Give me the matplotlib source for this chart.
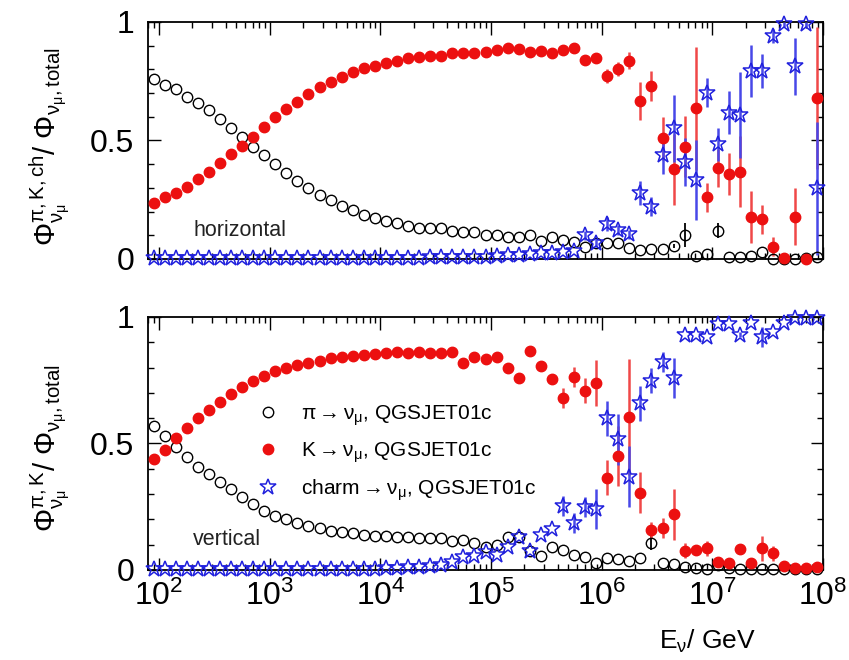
import numpy as np
import matplotlib
matplotlib.use("Agg")
import matplotlib.pyplot as plt
from matplotlib.ticker import (MultipleLocator, FuncFormatter, LogLocator,
                               FixedLocator, NullFormatter)

plt.rcParams['font.family'] = ['Liberation Sans', 'DejaVu Sans']
plt.rcParams['mathtext.fontset'] = 'custom'
plt.rcParams['mathtext.rm'] = 'Liberation Sans'
plt.rcParams['mathtext.it'] = 'Liberation Sans'
plt.rcParams['mathtext.bf'] = 'Liberation Sans:bold'

# energy bins: 0.1 decade wide, centres from 10^1.95 to 10^7.95 GeV
log_e = np.round(np.arange(61) * 0.1 + 1.95, 2)
energy = 10.0 ** log_e
decades = [1e2, 1e3, 1e4, 1e5, 1e6, 1e7, 1e8]

# ---- horizontal direction ----
hor_pi = [0.758, 0.734, 0.716, 0.685, 0.657, 0.629, 0.591, 0.554, 0.516, 0.474,
          0.439, 0.400, 0.364, 0.329, 0.298, 0.270, 0.249, 0.225, 0.207, 0.186,
          0.172, 0.162, 0.151, 0.139, 0.132, 0.130, 0.130, 0.120, 0.115, 0.112,
          0.101, 0.101, 0.092, 0.092, 0.101, 0.077, 0.092, 0.080, 0.073, 0.049,
          0.066, 0.066, 0.069, 0.045, 0.038, 0.041, 0.041, 0.055, 0.101, 0.013,
          0.021, 0.120, 0.010, 0.008, 0.013, 0.031, 0.000, 0.000, 0.000, 0.004,
          0.010]
hor_pi_err = [0.0] * 47 + [0.01, 0.05, 0.0, 0.0, 0.03] + [0.0] * 9

hor_k = [0.235, 0.260, 0.280, 0.305, 0.338, 0.368, 0.404, 0.443, 0.478, 0.516,
         0.556, 0.598, 0.633, 0.664, 0.695, 0.724, 0.748, 0.769, 0.790, 0.804,
         0.816, 0.826, 0.837, 0.847, 0.854, 0.857, 0.857, 0.868, 0.868, 0.868,
         0.875, 0.882, 0.889, 0.885, 0.872, 0.878, 0.868, 0.882, 0.889, 0.840,
         0.847, 0.772, 0.800, 0.837, 0.668, 0.730, 0.509, 0.378, 0.474, 0.636,
         0.260, 0.383, 0.359, 0.368, 0.178, 0.167, 0.052, 0.005, 0.178, 0.000,
         0.680]
hor_k_err = [0.0] * 39 + [0.02, 0.02, 0.03, 0.03, 0.035, 0.08, 0.065, 0.09, 0.15,
                          0.13, 0.26, 0.06, 0.08, 0.09, 0.15, 0.11, 0.06, 0.04,
                          0.01, 0.12, 0.01, 0.30]

hor_ch = [0.003] * 25 + [0.008] * 5 + [0.010, 0.012, 0.015, 0.015, 0.020,
          0.027, 0.027, 0.030, 0.035, 0.100, 0.069, 0.148, 0.122, 0.104, 0.277,
          0.221, 0.439, 0.551, 0.410, 0.333, 0.702, 0.484, 0.617, 0.608, 0.793,
          0.793, 0.941, 0.990, 0.814, 0.990, 0.298]
hor_ch_err = [0.0] * 39 + [0.02, 0.02, 0.03, 0.02, 0.02, 0.05, 0.04, 0.08, 0.14,
                           0.10, 0.17, 0.06, 0.07, 0.09, 0.18, 0.11, 0.07, 0.03,
                           0.01, 0.12, 0.01, 0.28]

# ---- vertical direction ----
ver_pi = [0.569, 0.530, 0.487, 0.448, 0.408, 0.379, 0.349, 0.319, 0.290, 0.261,
          0.234, 0.215, 0.200, 0.184, 0.174, 0.165, 0.155, 0.149, 0.145, 0.138,
          0.136, 0.135, 0.129, 0.129, 0.128, 0.125, 0.125, 0.116, 0.119, 0.105,
          0.092, 0.100, 0.129, 0.129, 0.076, 0.055, 0.090, 0.079, 0.059, 0.050,
          0.026, 0.046, 0.042, 0.037, 0.046, 0.108, 0.026, 0.024, 0.013, 0.007,
          0.003, 0.020, 0.007, 0.003, 0.005, 0.005, 0.005, 0.004, 0.004, 0.004,
          0.004]
ver_pi_err = [0.0] * 45 + [0.03] + [0.0] * 15

ver_k = [0.437, 0.474, 0.520, 0.562, 0.599, 0.632, 0.665, 0.696, 0.722, 0.747,
         0.767, 0.788, 0.800, 0.810, 0.819, 0.827, 0.837, 0.841, 0.846, 0.850,
         0.854, 0.856, 0.860, 0.856, 0.863, 0.858, 0.856, 0.863, 0.819, 0.841,
         0.833, 0.841, 0.797, 0.758, 0.867, 0.808, 0.755, 0.679, 0.764, 0.709,
         0.740, 0.365, 0.451, 0.604, 0.306, 0.158, 0.165, 0.220, 0.076, 0.079,
         0.086, 0.033, 0.029, 0.082, 0.029, 0.086, 0.066, 0.016, 0.007, 0.007,
         0.013]
ver_k_err = [0.0] * 36 + [0.02, 0.04, 0.04, 0.05, 0.09, 0.07, 0.12, 0.23, 0.08,
                          0.03, 0.04, 0.10, 0.03, 0.02, 0.03, 0.01, 0.01, 0.02,
                          0.01, 0.05, 0.03, 0.0, 0.0, 0.0, 0.0]

ver_ch = [0.003] * 20 + [0.005, 0.006, 0.008, 0.010, 0.012, 0.015, 0.020, 0.030,
          0.050, 0.055, 0.073, 0.059, 0.090, 0.129, 0.076, 0.138, 0.161, 0.253,
          0.187, 0.250, 0.240, 0.599, 0.516, 0.369, 0.659, 0.748, 0.823, 0.758,
          0.929, 0.929, 0.922, 0.972, 0.972, 0.929, 0.977, 0.920, 0.942, 0.977,
          0.998, 0.998, 0.995]
ver_ch_err = [0.0] * 37 + [0.04, 0.04, 0.04, 0.08, 0.07, 0.10, 0.12, 0.07, 0.05,
                           0.04, 0.08, 0.0, 0.0, 0.0, 0.0, 0.0, 0.01, 0.0, 0.04,
                           0.0, 0.0, 0.0, 0.0, 0.0]

labels = [r'$\pi\rightarrow\nu_{\mu}$, QGSJET01c',
          r'K$\rightarrow\nu_{\mu}$, QGSJET01c',
          r'charm$\rightarrow\nu_{\mu}$, QGSJET01c']

RED = '#ec1010'
BLUE = '#2020dd'

fig = plt.figure(figsize=(8.49, 6.6), dpi=100)
ax_h = fig.add_axes([0.1743, 0.6076, 0.7951, 0.3591])
ax_v = fig.add_axes([0.1743, 0.1364, 0.7951, 0.3833])


def draw_panel(ax, pi, pi_err, k, k_err, ch, ch_err):
    ax.errorbar(energy, pi, yerr=pi_err, fmt='none', ecolor='black',
                elinewidth=1.3, capsize=0, clip_on=False, zorder=3)
    ax.errorbar(energy, k, yerr=k_err, fmt='none', ecolor='#f04848',
                elinewidth=1.8, capsize=0, clip_on=False, zorder=3)
    ax.errorbar(energy, ch, yerr=ch_err, fmt='none', ecolor='#4848e8',
                elinewidth=1.8, capsize=0, clip_on=False, zorder=3)
    h1, = ax.plot(energy, pi, ls='none', marker='o', ms=7.5, mfc='none',
                  mec='black', mew=1.0, clip_on=False, zorder=4)
    h2, = ax.plot(energy, k, ls='none', marker='o', ms=7.5, mfc=RED,
                  mec=RED, mew=1.0, clip_on=False, zorder=5)
    h3, = ax.plot(energy, ch, ls='none', marker='*', ms=12, mfc='none',
                  mec=BLUE, mew=1.1, clip_on=False, zorder=6)

    ax.set_xscale('log')
    ax.set_xlim(10 ** 1.9, 1e8)
    ax.set_ylim(0, 1)
    ax.xaxis.set_major_locator(FixedLocator(decades))
    ax.xaxis.set_minor_locator(LogLocator(base=10, subs=np.arange(2, 10), numticks=20))
    ax.xaxis.set_minor_formatter(NullFormatter())
    ax.yaxis.set_major_locator(MultipleLocator(0.5))
    ax.yaxis.set_minor_locator(MultipleLocator(0.1))
    ax.yaxis.set_major_formatter(FuncFormatter(lambda v, p: '%g' % v))
    ax.tick_params(which='both', direction='in', top=True, right=True,
                   labelsize=23, width=1.0)
    ax.tick_params(which='major', length=9)
    ax.tick_params(which='minor', length=4.5)
    ax.tick_params(axis='y', pad=10)
    ax.tick_params(axis='x', pad=8)
    for s in ax.spines.values():
        s.set_linewidth(1.3)
    return h1, h2, h3


draw_panel(ax_h, hor_pi, hor_pi_err, hor_k, hor_k_err, hor_ch, hor_ch_err)
ax_h.tick_params(axis='x', labelbottom=False)
ax_h.text(0.067, 0.122, 'horizontal', transform=ax_h.transAxes,
          fontsize=15.5, ha='left', va='center', color='#222222')

handles = draw_panel(ax_v, ver_pi, ver_pi_err, ver_k, ver_k_err, ver_ch, ver_ch_err)
ax_v.text(0.067, 0.119, 'vertical', transform=ax_v.transAxes,
          fontsize=15.5, ha='left', va='center', color='#222222')
ax_v.legend(handles, labels, loc='upper left', bbox_to_anchor=(0.159, 0.66),
            frameon=False, fontsize=15, handlelength=1.2, handletextpad=1.0,
            labelspacing=0.6, borderpad=0, borderaxespad=0)

fig.text(50 / 849, 1 - 147 / 660,
         r'$\Phi^{\pi,\mathrm{K,ch}}_{\nu_{\mu}}/\ \Phi_{\nu_{\mu},\mathrm{total}}$',
         rotation=90, ha='center', va='center', fontsize=21)
fig.text(50 / 849, 1 - 448 / 660,
         r'$\Phi^{\pi,\mathrm{K}}_{\nu_{\mu}}/\ \Phi_{\nu_{\mu},\mathrm{total}}$',
         rotation=90, ha='center', va='center', fontsize=21)
fig.text(708 / 849, 1 - 641 / 660, r'E$_{\nu}$/ GeV',
         ha='center', va='center', fontsize=19)

fig.savefig('out.png', dpi=100)
